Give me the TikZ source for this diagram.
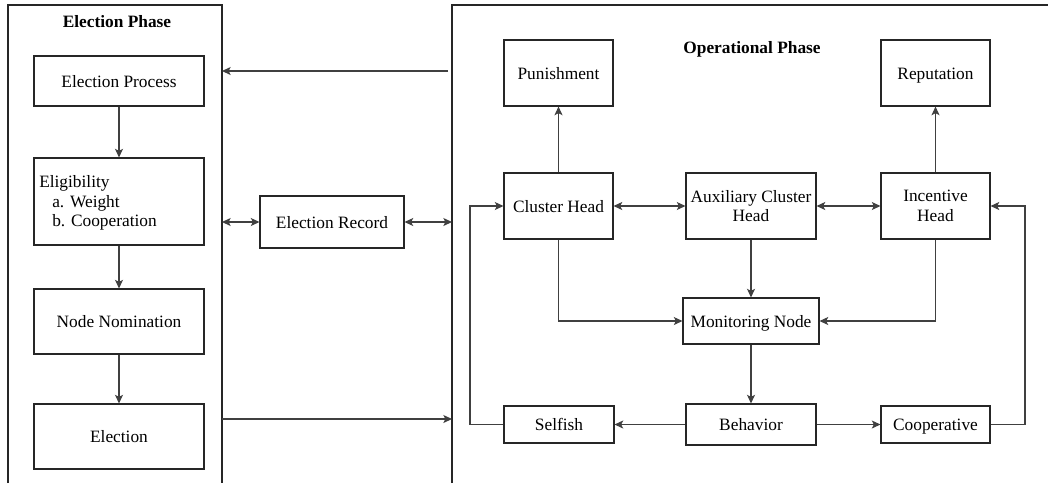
\documentclass[tikz,border=0pt]{standalone}
\usepackage{fontspec}
\setmainfont{Liberation Serif}
\usetikzlibrary{arrows.meta}
\begin{document}
\begin{tikzpicture}[x=0.75pt,y=-0.75pt,
  every node/.style={font=\fontsize{13}{14.5}\selectfont},
  box/.style n args={2}{draw=black!85, line width=0.8pt, minimum width=#1*0.75pt, minimum height=#2*0.75pt, inner sep=0pt, align=center},
  one/.style={text height=0.9em, text depth=0pt},
  panel/.style={draw=black!85, line width=0.8pt},
  tip/.tip={Stealth[length=6.5pt,width=6pt,inset=1.5pt]},
  arr/.style={draw=black!75, line width=0.9pt, -tip},
  darr/.style={draw=black!75, line width=0.9pt, tip-tip},
  ttl/.style={font=\fontsize{13}{14.5}\selectfont\bfseries}]
\useasboundingbox (0,0) rectangle (1048,483);

% panels
\draw[panel] (8,483) -- (8,5) -- (222,5) -- (222,483);
\draw[panel] (452,483) -- (452,5) -- (1048,5);
\node[ttl] (t1) at (117,22) {Election Phase};
\node[ttl] (t2) at (752,49) {Operational Phase};

% panel edge coordinates
\coordinate (lpA) at (222,71);
\coordinate (rpA) at (448,71);
\coordinate (lpB) at (222,222);
\coordinate (rpB) at (452,222);
\coordinate (lpC) at (222,419);
\coordinate (rpC) at (452,419);
\coordinate (ll) at (470,0);
\coordinate (rl) at (1025,0);

% left nodes
\node[box={170}{50}, one] (ep) at (119,81) {Election Process};
\node[box={170}{87}] (el) at (119,201.5) {};
\node[anchor=west, align=left, inner sep=0pt] (elt) at (39,203) {Eligibility\\\hspace*{9.75pt}a. Weight\\\hspace*{9.75pt}b. Cooperation};
\node[box={170}{65}, one] (nn) at (119,321.5) {Node Nomination};
\node[box={170}{65}, one] (elc) at (119,436.5) {Election};
\node[box={144}{52}, one] (er) at (332,222) {Election Record};

\draw[arr] (ep) -- (el);
\draw[arr] (el) -- (nn);
\draw[arr] (nn) -- (elc);
\draw[arr] (rpA) -- (lpA);
\draw[darr] (lpB) -- (er);
\draw[darr] (er) -- (rpB);
\draw[arr] (lpC) -- (rpC);

% right nodes
\node[box={109}{66}, one] (pun) at (558.5,73) {Punishment};
\node[box={109}{66}, one] (rep) at (935.5,73) {Reputation};
\node[box={109}{66}, one] (ch) at (558.5,206) {Cluster Head};
\node[box={130}{66}] (ach) at (751,206) {Auxiliary Cluster\\Head};
\node[box={109}{66}] (ih) at (935.5,206) {Incentive\\Head};
\node[box={136}{46}, one] (mn) at (751,321) {Monitoring Node};
\node[box={110}{37}, one] (sel) at (559,424.5) {Selfish};
\node[box={130}{41}, one] (beh) at (751,424.5) {Behavior};
\node[box={109}{37}, one] (coop) at (935.5,424.5) {Cooperative};

\draw[arr] (ch) -- (pun);
\draw[arr] (ih) -- (rep);
\draw[darr] (ch) -- (ach);
\draw[darr] (ach) -- (ih);
\draw[arr] (ach) -- (mn);
\draw[arr] (ch.south) |- (mn.west);
\draw[arr] (ih.south) |- (mn.east);
\draw[arr] (mn) -- (beh);
\draw[arr] (beh) -- (sel);
\draw[arr] (beh) -- (coop);
\draw[arr] (sel.west) -- (sel.west -| ll) |- (ch.west);
\draw[arr] (coop.east) -- (coop.east -| rl) |- (ih.east);
\end{tikzpicture}
\end{document}
